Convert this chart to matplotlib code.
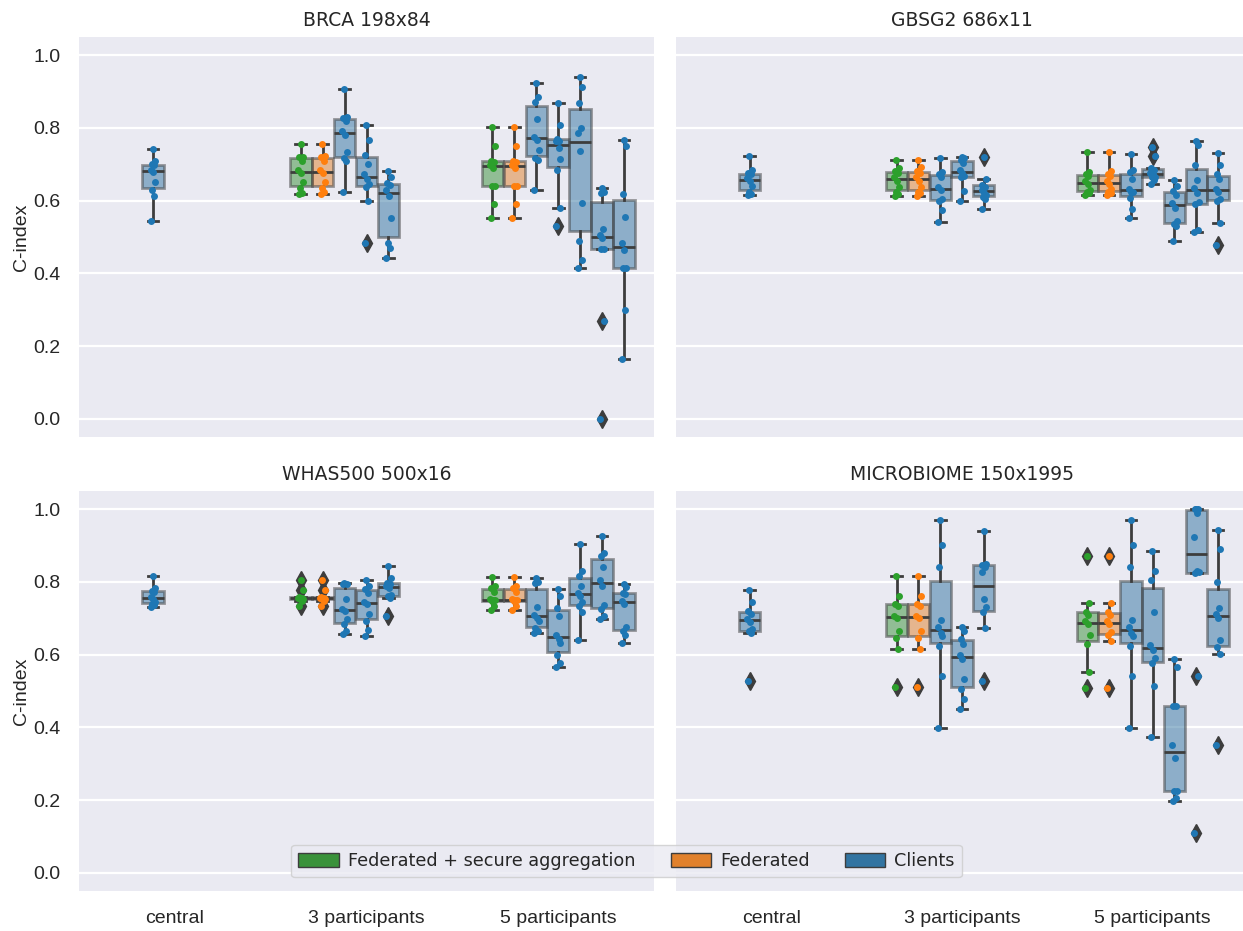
import matplotlib
matplotlib.use("Agg")
import matplotlib.pyplot as plt
from matplotlib.patches import Patch

# ---------------- data ----------------
CATEGORIES = ["central", "3 participants", "5 participants"]
HUE_LABELS = ["Federated + secure aggregation", "Federated", "Clients"]
TITLES = ["BRCA 198x84", "GBSG2 686x11", "WHAS500 500x16", "MICROBIOME 150x1995"]
YTICKS = [0.0, 0.2, 0.4, 0.6, 0.8, 1.0]

BRCA_CENTRAL = [0.543, 0.614, 0.630, 0.650, 0.678, 0.684, 0.697, 0.700, 0.710, 0.741]
BRCA_3P_SECURE = [0.619, 0.622, 0.636, 0.652, 0.676, 0.684, 0.710, 0.719, 0.720, 0.756]
BRCA_3P_FED = [0.619, 0.624, 0.636, 0.652, 0.676, 0.684, 0.710, 0.719, 0.722, 0.756]
BRCA_3P_CLIENTS = [
    [0.624, 0.710, 0.716, 0.735, 0.780, 0.792, 0.818, 0.827, 0.830, 0.907],
    [0.483, 0.600, 0.638, 0.646, 0.660, 0.672, 0.700, 0.726, 0.768, 0.807],
    [0.441, 0.470, 0.484, 0.551, 0.612, 0.628, 0.643, 0.648, 0.665, 0.681],
]
BRCA_5P_SECURE = [0.552, 0.592, 0.640, 0.640, 0.690, 0.698, 0.705, 0.709, 0.749, 0.802]
BRCA_5P_FED = [0.552, 0.592, 0.640, 0.640, 0.690, 0.698, 0.705, 0.709, 0.749, 0.802]
BRCA_5P_CLIENTS = [
    [0.629, 0.713, 0.718, 0.738, 0.768, 0.776, 0.825, 0.872, 0.884, 0.923],
    [0.531, 0.580, 0.684, 0.714, 0.745, 0.763, 0.765, 0.770, 0.807, 0.868],
    [0.414, 0.437, 0.490, 0.594, 0.736, 0.786, 0.800, 0.868, 0.912, 0.941],
    [0.000, 0.270, 0.467, 0.467, 0.496, 0.506, 0.521, 0.620, 0.625, 0.636],
    [0.165, 0.300, 0.414, 0.414, 0.463, 0.483, 0.554, 0.619, 0.749, 0.768],
]

GBSG2_CENTRAL = [0.615, 0.618, 0.625, 0.640, 0.655, 0.661, 0.672, 0.675, 0.685, 0.724]
GBSG2_3P_SECURE = [0.613, 0.618, 0.625, 0.637, 0.655, 0.665, 0.676, 0.681, 0.690, 0.712]
GBSG2_3P_FED = [0.613, 0.620, 0.625, 0.637, 0.655, 0.665, 0.676, 0.681, 0.692, 0.712]
GBSG2_3P_CLIENTS = [
    [0.542, 0.573, 0.600, 0.605, 0.628, 0.638, 0.665, 0.674, 0.678, 0.718],
    [0.599, 0.626, 0.664, 0.668, 0.676, 0.684, 0.704, 0.711, 0.716, 0.721],
    [0.576, 0.605, 0.611, 0.615, 0.622, 0.630, 0.638, 0.644, 0.660, 0.721],
]
GBSG2_5P_SECURE = [0.615, 0.620, 0.625, 0.630, 0.645, 0.653, 0.668, 0.673, 0.680, 0.733]
GBSG2_5P_FED = [0.615, 0.620, 0.625, 0.632, 0.645, 0.653, 0.668, 0.673, 0.682, 0.733]
GBSG2_5P_CLIENTS = [
    [0.553, 0.578, 0.608, 0.625, 0.625, 0.631, 0.660, 0.679, 0.685, 0.727],
    [0.647, 0.658, 0.665, 0.666, 0.672, 0.676, 0.683, 0.689, 0.724, 0.747],
    [0.489, 0.530, 0.535, 0.545, 0.580, 0.594, 0.615, 0.627, 0.639, 0.658],
    [0.514, 0.520, 0.590, 0.595, 0.620, 0.636, 0.656, 0.699, 0.752, 0.765],
    [0.479, 0.539, 0.600, 0.604, 0.625, 0.631, 0.660, 0.672, 0.697, 0.731],
]

WHAS_CENTRAL = [0.732, 0.736, 0.740, 0.745, 0.752, 0.758, 0.772, 0.776, 0.782, 0.815]
WHAS_3P_SECURE = [0.735, 0.748, 0.752, 0.753, 0.755, 0.755, 0.757, 0.759, 0.778, 0.805]
WHAS_3P_FED = [0.735, 0.748, 0.752, 0.753, 0.755, 0.755, 0.757, 0.759, 0.778, 0.805]
WHAS_3P_CLIENTS = [
    [0.657, 0.665, 0.685, 0.697, 0.720, 0.726, 0.752, 0.793, 0.795, 0.798],
    [0.652, 0.668, 0.692, 0.712, 0.738, 0.744, 0.770, 0.781, 0.790, 0.804],
    [0.706, 0.755, 0.760, 0.765, 0.782, 0.788, 0.795, 0.797, 0.810, 0.844],
]
WHAS_5P_SECURE = [0.723, 0.735, 0.748, 0.750, 0.750, 0.752, 0.772, 0.782, 0.790, 0.813]
WHAS_5P_FED = [0.723, 0.735, 0.748, 0.750, 0.750, 0.752, 0.772, 0.782, 0.790, 0.813]
WHAS_5P_CLIENTS = [
    [0.659, 0.665, 0.672, 0.692, 0.700, 0.710, 0.730, 0.797, 0.800, 0.812],
    [0.567, 0.578, 0.600, 0.632, 0.642, 0.654, 0.705, 0.729, 0.760, 0.781],
    [0.640, 0.718, 0.735, 0.745, 0.762, 0.770, 0.790, 0.817, 0.830, 0.905],
    [0.697, 0.705, 0.725, 0.737, 0.790, 0.806, 0.840, 0.870, 0.880, 0.927],
    [0.633, 0.655, 0.665, 0.677, 0.740, 0.748, 0.766, 0.770, 0.785, 0.794],
]

MICRO_CENTRAL = [0.528, 0.659, 0.665, 0.670, 0.690, 0.698, 0.712, 0.719, 0.746, 0.778]
MICRO_3P_SECURE = [0.512, 0.616, 0.645, 0.665, 0.700, 0.706, 0.735, 0.740, 0.760, 0.817]
MICRO_3P_FED = [0.512, 0.616, 0.645, 0.665, 0.700, 0.706, 0.735, 0.740, 0.760, 0.817]
MICRO_3P_CLIENTS = [
    [0.399, 0.541, 0.625, 0.650, 0.660, 0.676, 0.694, 0.840, 0.902, 0.969],
    [0.450, 0.477, 0.505, 0.533, 0.587, 0.599, 0.630, 0.642, 0.665, 0.677],
    [0.528, 0.672, 0.717, 0.730, 0.752, 0.826, 0.840, 0.847, 0.850, 0.939],
]
MICRO_5P_SECURE = [0.507, 0.551, 0.630, 0.655, 0.684, 0.692, 0.710, 0.718, 0.741, 0.872]
MICRO_5P_FED = [0.507, 0.638, 0.655, 0.663, 0.684, 0.692, 0.710, 0.716, 0.741, 0.872]
MICRO_5P_CLIENTS = [
    [0.399, 0.541, 0.625, 0.650, 0.660, 0.676, 0.694, 0.840, 0.902, 0.969],
    [0.374, 0.514, 0.578, 0.590, 0.612, 0.626, 0.716, 0.806, 0.830, 0.885],
    [0.198, 0.205, 0.226, 0.226, 0.315, 0.351, 0.459, 0.459, 0.567, 0.588],
    [0.110, 0.541, 0.824, 0.826, 0.830, 0.924, 0.990, 1.000, 1.000, 1.000],
    [0.351, 0.602, 0.620, 0.640, 0.700, 0.712, 0.728, 0.799, 0.890, 0.943],
]

PANELS = [
    (BRCA_CENTRAL, BRCA_3P_SECURE, BRCA_3P_FED, BRCA_3P_CLIENTS, BRCA_5P_SECURE, BRCA_5P_FED, BRCA_5P_CLIENTS),
    (GBSG2_CENTRAL, GBSG2_3P_SECURE, GBSG2_3P_FED, GBSG2_3P_CLIENTS, GBSG2_5P_SECURE, GBSG2_5P_FED, GBSG2_5P_CLIENTS),
    (WHAS_CENTRAL, WHAS_3P_SECURE, WHAS_3P_FED, WHAS_3P_CLIENTS, WHAS_5P_SECURE, WHAS_5P_FED, WHAS_5P_CLIENTS),
    (MICRO_CENTRAL, MICRO_3P_SECURE, MICRO_3P_FED, MICRO_3P_CLIENTS, MICRO_5P_SECURE, MICRO_5P_FED, MICRO_5P_CLIENTS),
]

# ---------------- style ----------------
BOX_COLORS = ["#3a923a", "#e1812c", "#3274a1"]
DOT_COLORS = ["#2ca02c", "#ff7f0e", "#1f77b4"]
GRAY = "#3d3d3d"
BG = "#EAEAF2"
N_SLOTS = 7
SLOT = 0.8 / N_SLOTS
BOXW = SLOT * 0.98
JITTER = [-0.010, 0.008, -0.004, 0.012, 0.002, -0.012, 0.006, -0.007, 0.011, -0.001]
TICK_FONT = "Liberation Sans"
TITLE_FONT = "DejaVu Sans"

W, H = 1243, 931
fig = plt.figure(figsize=(W / 100, H / 100), dpi=100)


def rect(x0, y0, x1, y1):
    return [x0 / W, 1 - y1 / H, (x1 - x0) / W, (y1 - y0) / H]


RECTS = [rect(79, 37, 654, 437), rect(676, 37, 1248, 437),
         rect(79, 491, 654, 891), rect(676, 491, 1248, 891)]


def slot_pos(cat, slot):
    return cat - 0.4 + (slot + 0.5) * SLOT


def draw_group(ax, vals, pos, kind):
    ax.boxplot([vals], positions=[pos], widths=BOXW, patch_artist=True,
               manage_ticks=False, whis=1.5,
               boxprops=dict(facecolor=BOX_COLORS[kind], edgecolor=GRAY,
                             linewidth=2, alpha=0.5),
               medianprops=dict(color=GRAY, linewidth=2),
               whiskerprops=dict(color=GRAY, linewidth=2),
               capprops=dict(color=GRAY, linewidth=2),
               flierprops=dict(marker="d", markerfacecolor=GRAY,
                               markeredgecolor=GRAY, markersize=9,
                               markeredgewidth=1))
    xs = [pos + JITTER[i % len(JITTER)] for i in range(len(vals))]
    ax.plot(xs, vals, "o", color=DOT_COLORS[kind], markersize=5,
            markeredgewidth=0, zorder=4)


for idx, (data, r, title) in enumerate(zip(PANELS, RECTS, TITLES)):
    ax = fig.add_axes(r)
    ax.set_facecolor(BG)
    for s in ax.spines.values():
        s.set_visible(False)
    ax.set_axisbelow(True)
    ax.yaxis.grid(True, color="white", linewidth=1.6)
    ax.xaxis.grid(False)
    central, s3, f3, c3, s5, f5, c5 = data
    draw_group(ax, central, slot_pos(0, 2), 2)
    draw_group(ax, s3, slot_pos(1, 0), 0)
    draw_group(ax, f3, slot_pos(1, 1), 1)
    for j, c in enumerate(c3):
        draw_group(ax, c, slot_pos(1, 2 + j), 2)
    draw_group(ax, s5, slot_pos(2, 0), 0)
    draw_group(ax, f5, slot_pos(2, 1), 1)
    for j, c in enumerate(c5):
        draw_group(ax, c, slot_pos(2, 2 + j), 2)

    ax.set_xlim(-0.5, 2.5)
    ax.set_ylim(-0.05, 1.05)
    ax.set_yticks(YTICKS)
    ax.set_xticks(range(len(CATEGORIES)))
    ax.tick_params(length=0, pad=13.5)
    if idx in (0, 2):
        ax.set_yticklabels([f"{v:.1f}" for v in YTICKS], fontsize=14,
                           fontfamily=TICK_FONT, color="#262626")
        ax.set_ylabel("C-index", fontsize=14, fontfamily=TICK_FONT,
                      color="#262626", labelpad=2)
    else:
        ax.set_yticklabels([])
    if idx in (2, 3):
        ax.set_xticklabels(CATEGORIES, fontsize=14, fontfamily=TICK_FONT,
                           color="#262626")
    else:
        ax.set_xticklabels([])
    ax.set_title(title, fontsize=13.5, fontfamily=TITLE_FONT, color="#262626",
                 pad=8)

handles = [Patch(facecolor=c, edgecolor=GRAY, linewidth=1) for c in BOX_COLORS]
leg = fig.legend(handles, HUE_LABELS, loc="center", ncol=3,
                 bbox_to_anchor=(626.5 / W, 1 - 861 / H),
                 prop=dict(family=TITLE_FONT, size=12.7),
                 handlelength=2.3, handleheight=0.8, handletextpad=0.5,
                 columnspacing=2.0, borderpad=0.4, frameon=True,
                 fancybox=True, framealpha=0.8, facecolor=BG,
                 edgecolor="#cccccc")
for t in leg.get_texts():
    t.set_color("#262626")

fig.savefig("out.png", dpi=100)
